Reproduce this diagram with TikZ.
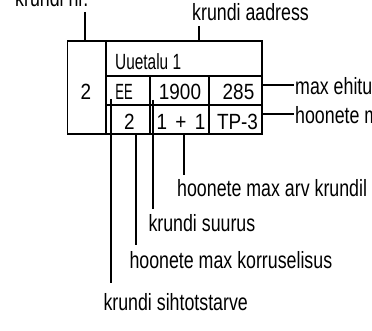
\documentclass[tikz,border=0pt]{standalone}
\usepackage{fontspec}
\setmainfont[FakeStretch=0.757]{Liberation Sans}
\newfontfamily\digitfont[FakeStretch=0.86]{Liberation Sans}
\newfontfamily\letterfont[FakeStretch=0.70]{Liberation Sans}
\newfontfamily\eefont[FakeStretch=0.59]{Liberation Sans}
\begin{document}
\begin{tikzpicture}[x=1pt,y=-1pt,
  frame/.style={line width=1.3pt},
  leader/.style={line width=1.3pt},
  lbl/.style={anchor=base west, inner sep=0pt, font=\fontsize{23.5}{25}\selectfont},
  cell/.style={anchor=base, inner sep=0pt, font=\digitfont\fontsize{22}{24}\selectfont},
  lcell/.style={anchor=base, inner sep=0pt, font=\letterfont\fontsize{22}{24}\selectfont}]
\useasboundingbox (0,0) rectangle (372,331);
\clip (0,0) rectangle (372,331);
% table
\coordinate (tl) at (67.5,41);
\coordinate (br) at (262,134);
\draw[frame] (tl) rectangle (br);
\draw[frame] (106,41) -- (106,134);
\draw[frame] (106,76) -- (262,76);
\draw[frame] (106,105) -- (262,105);
\draw[frame] (150,76) -- (150,134);
\draw[frame] (209,76) -- (209,134);
% cell texts
\node[cell] (cnr) at (86,100) {2};
\node[lcell, anchor=base west] (caddr) at (115,69.5) {Uuetalu 1};
\node[lcell, font=\eefont\fontsize{22}{24}\selectfont] (cee) at (124,100) {EE};
\node[cell] (c1900) at (180,100) {1900};
\node[cell] (c285) at (238.5,100) {285};
\node[cell] (ckor) at (129.5,130) {2};
\node[cell] (carv) at (181,130) {1\hspace{3pt} + \hspace{3pt}1};
\node[cell] (ctp) at (237.5,130) {TP-3};
% labels
\node[lbl] (lnr) at (15,7) {krundi nr.};
\node[lbl] (laddr) at (192,21) {krundi aadress};
\node[lbl] (lmax) at (295,95) {max ehitusalune pind};
\node[lbl] (ltp) at (295,124) {hoonete min tulepüsivusklass};
\node[lbl] (larv) at (177,196.5) {hoonete max arv krundil};
\node[lbl] (lsuur) at (148.3,231.5) {krundi suurus};
\node[lbl] (lkorr) at (129.3,268) {hoonete max korruselisus};
\node[lbl] (lsiht) at (103.3,310) {krundi sihtotstarve};
% leader end points
\coordinate (anr1) at (85,12);   \coordinate (anr2) at (85,41);
\coordinate (aad1) at (199,26);  \coordinate (aad2) at (199,41);
\coordinate (amx1) at (262,85);  \coordinate (amx2) at (294,85);
\coordinate (atp1) at (262,114); \coordinate (atp2) at (294,114);
\coordinate (aar1) at (184,134); \coordinate (aar2) at (184,175);
\coordinate (asu1) at (153,100); \coordinate (asu2) at (153,209);
\coordinate (ako1) at (136,134); \coordinate (ako2) at (136,245);
\coordinate (asi1) at (111,99);  \coordinate (asi2) at (111,283);
\draw[leader] (anr1) -- (anr2);
\draw[leader] (aad1) -- (aad2);
\draw[leader] (amx1) -- (amx2);
\draw[leader] (atp1) -- (atp2);
\draw[leader] (aar1) -- (aar2);
\draw[leader] (asu1) -- (asu2);
\draw[leader] (ako1) -- (ako2);
\draw[leader] (asi1) -- (asi2);
\end{tikzpicture}
\end{document}
